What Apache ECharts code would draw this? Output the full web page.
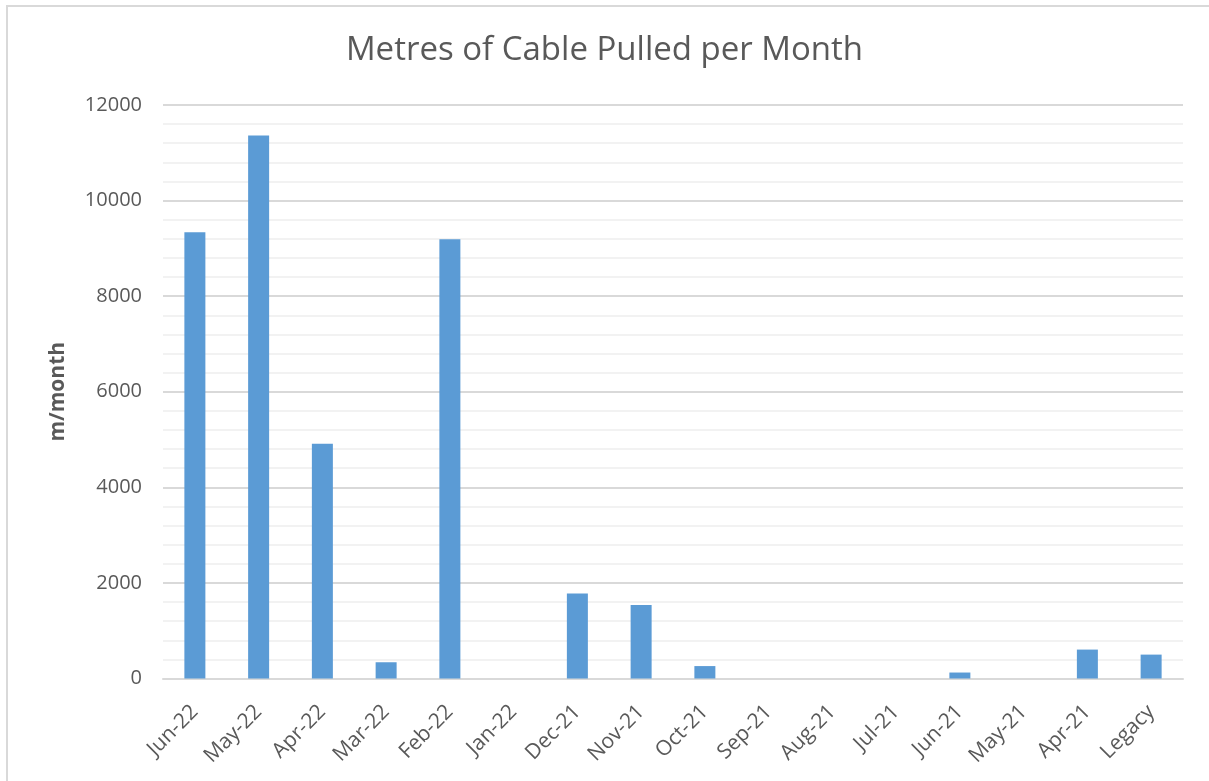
<!DOCTYPE html>
<html>
<head>
<meta charset="utf-8">
<script src="https://cdn.jsdelivr.net/npm/echarts@6/dist/echarts.min.js"></script>
<style>
html,body{margin:0;padding:0;background:#fff;}
#chart{width:1209px;height:781px;}
</style>
</head>
<body>
<div id="chart"></div>
<script>
const categories = ['Jun-22','May-22','Apr-22','Mar-22','Feb-22','Jan-22','Dec-21','Nov-21','Oct-21','Sep-21','Aug-21','Jul-21','Jun-21','May-21','Apr-21','Legacy'];
const metresPulled = [9340, 11360, 4910, 340, 9190, 0, 1780, 1540, 260, 0, 0, 0, 125, 0, 605, 500];
const yTicks = [0, 2000, 4000, 6000, 8000, 10000, 12000];

const chart = echarts.init(document.getElementById('chart'));
chart.setOption({
  backgroundColor: '#ffffff',
  animation: false,
  title: {
    text: 'Metres of Cable Pulled per Month',
    left: 'center',
    top: 29,
    textStyle: { fontFamily: 'Open Sans', fontSize: 33, fontWeight: 'normal', color: '#595959' }
  },
  graphic: [{
    type: 'rect',
    shape: { x: 7, y: 6, width: 1220, height: 800 },
    style: { fill: 'none', stroke: '#d9d9d9', lineWidth: 2 },
    silent: true
  }],
  grid: { left: 163, right: 26, top: 105, bottom: 102.5, containLabel: false },
  xAxis: {
    type: 'category',
    data: categories,
    axisLine: { show: true, lineStyle: { color: '#d9d9d9', width: 2 } },
    axisTick: { show: false },
    axisLabel: { rotate: 45, margin: 30, fontFamily: 'Open Sans', fontSize: 21, color: '#595959', interval: 0 }
  },
  yAxis: {
    type: 'value',
    min: yTicks[0],
    max: yTicks[yTicks.length - 1],
    interval: 2000,
    name: 'm/month',
    nameLocation: 'middle',
    nameGap: 94,
    nameRotate: 90,
    nameTextStyle: { fontFamily: 'Open Sans', fontSize: 21, fontWeight: 'bold', color: '#595959' },
    axisLine: { show: false },
    axisTick: { show: false },
    axisLabel: { margin: 21, fontFamily: 'Open Sans', fontSize: 20, color: '#595959', formatter: function (v) { return String(v); } },
    splitLine: { show: true, lineStyle: { color: '#d9d9d9', width: 2 } },
    minorTick: { show: false, splitNumber: 5 },
    minorSplitLine: { show: true, lineStyle: { color: '#f2f2f2', width: 2 } }
  },
  series: [{
    type: 'bar',
    data: metresPulled,
    barWidth: 21,
    itemStyle: { color: '#5b9bd5' }
  }]
});
</script>
</body>
</html>
